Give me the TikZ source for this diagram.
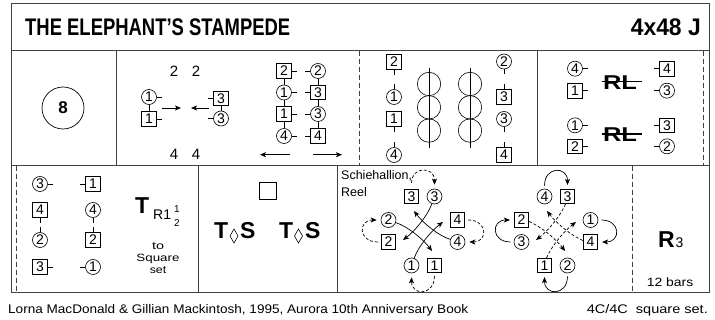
\documentclass[tikz,border=0pt]{standalone}
\usepackage{fontspec}
\usepackage{graphicx}
\setmainfont{Liberation Sans}
\usetikzlibrary{arrows.meta,calc}
\newcommand{\fsz}[1]{\fontsize{#1}{#1}\selectfont}
\newcommand{\wfit}[2]{\resizebox{#1}{\height}{#2}}
\begin{document}
\begin{tikzpicture}[x=1pt,y=-1pt,
  frame/.style={draw=black!75, line width=0.9pt},
  dsep/.style={draw=black!75, line width=0.9pt, dash pattern=on 5pt off 3pt},
  dc/.style={circle, draw, line width=0.6pt, minimum size=15pt, inner sep=0pt, font=\fsz{14}},
  ds/.style={rectangle, draw, line width=0.6pt, minimum size=14.5pt, inner sep=0pt, font=\fsz{14}},
  tk/.style={line width=0.6pt},
  ln/.style={line width=0.6pt},
  arr/.style={line width=0.7pt, -{Stealth[length=6pt,width=5pt,inset=1.5pt]}},
  darr/.style={arr, dash pattern=on 3pt off 2pt},
  txt/.style={inner sep=0pt},
]
\useasboundingbox (0,0) rectangle (715,320);

% ---------- frames ----------
\draw[frame] (11,3) rectangle (709,50.7);
\draw[frame] (11,50.7) rectangle (709,165.7);
\draw[frame] (11,165.7) rectangle (709,292.5);
\draw[frame] (116,50.7) -- (116,165.7);
\draw[dsep] (359,50.7) -- (359,165.7);
\draw[frame] (537,50.7) -- (537,165.7);
\draw[dsep] (703,50.7) -- (703,165.7);
\draw[dsep] (16,165.7) -- (16,292.5);
\draw[frame] (198,165.7) -- (198,292.5);
\draw[frame] (337.5,165.7) -- (337.5,292.5);
\draw[dsep] (632,165.7) -- (632,292.5);

% ---------- title ----------
\node[txt, anchor=west] (title) at (25,27.5) {\wfit{265pt}{\fsz{24}\bfseries THE ELEPHANT'S STAMPEDE}};
\node[txt, anchor=east] (form) at (701,27.5) {\wfit{70pt}{\fsz{24}\bfseries 4x48 J}};

% ---------- cell A ----------
\node[circle, draw, line width=0.7pt, minimum size=42pt, inner sep=0pt, font=\fsz{17}\bfseries] (eight) at (63,108) {8};

% ---------- cell B ----------
\node[txt, font=\fsz{15}] (ta) at (174,71) {2};
\node[txt, font=\fsz{15}] (tb) at (196,71) {2};
\node[txt, font=\fsz{15}] (ba) at (174,154) {4};
\node[txt, font=\fsz{15}] (bb) at (196,154) {4};

\node[dc] (b1c) at (149,97) {1};
\node[ds] (b1s) at (149,119) {1};
\draw[ln] (b1c) -- (b1s);
\draw[tk] (b1c.east) -- ++(5,0);
\draw[tk] (b1s.east) -- ++(5,0);
\node[ds] (b3s) at (221,98.5) {3};
\node[dc] (b3c) at (221,118.5) {3};
\draw[ln] (b3s) -- (b3c);
\draw[tk] (b3s.west) -- ++(-5,0);
\draw[tk] (b3c.west) -- ++(-5,0);
\coordinate (ar1s) at (162,108); \coordinate (ar1e) at (181,108);
\coordinate (ar2s) at (209,108); \coordinate (ar2e) at (191,108);
\draw[arr] (ar1s) -- (ar1e);
\draw[arr] (ar2s) -- (ar2e);

\node[ds] (l1) at (284,71) {2};
\node[dc] (l2) at (284,92.5) {1};
\node[ds] (l3) at (284,114) {1};
\node[dc] (l4) at (284,136) {4};
\draw[ln] (l1) -- (l2); \draw[ln] (l2) -- (l3); \draw[ln] (l3) -- (l4);
\foreach \n in {l1,l2,l3,l4} \draw[tk] (\n.east) -- ++(5,0);
\node[dc] (r1) at (318,71) {2};
\node[ds] (r2) at (318,92.5) {3};
\node[dc] (r3) at (318,114) {3};
\node[ds] (r4) at (318,136) {4};
\draw[ln] (r1) -- (r2); \draw[ln] (r2) -- (r3); \draw[ln] (r3) -- (r4);
\foreach \n in {r1,r2,r3,r4} \draw[tk] (\n.west) -- ++(-5,0);
\coordinate (ar3s) at (290,154.7); \coordinate (ar3e) at (260,154.7);
\coordinate (ar4s) at (313,154.7); \coordinate (ar4e) at (342,154.7);
\draw[arr] (ar3s) -- (ar3e);
\draw[arr] (ar4s) -- (ar4e);

% ---------- cell C ----------
\node[ds] (c1) at (394,62) {2};
\node[dc] (c2) at (394,97) {1};
\node[ds] (c3) at (394,119) {1};
\node[dc] (c4) at (394,155) {4};
\draw[tk] (c1.south) -- ++(0,5);
\draw[tk] (c2.north) -- ++(0,-5);
\draw[tk] (c3.south) -- ++(0,5);
\draw[tk] (c4.north) -- ++(0,-5);
\node[dc] (d1) at (504,61.5) {2};
\node[ds] (d2) at (504,97) {3};
\node[dc] (d3) at (504,119) {3};
\node[ds] (d4) at (504,155) {4};
\draw[tk] (d1.south) -- ++(0,5);
\draw[tk] (d2.north) -- ++(0,-5);
\draw[tk] (d3.south) -- ++(0,5);
\draw[tk] (d4.north) -- ++(0,-5);
\foreach \xx in {429,470} {
  \draw[ln] (\xx,68) -- (\xx,148);
  \foreach \yy in {84,107.3,130.6} \draw[ln] (\xx,\yy) circle[radius=11.7];
}

% ---------- cell D ----------
\node[dc] (e1) at (575,68.7) {4};
\node[ds] (e2) at (575,90.7) {1};
\draw[tk] (e1.east) -- ++(5,0); \draw[tk] (e2.east) -- ++(5,0);
\node[ds] (e3) at (667,68.7) {4};
\node[dc] (e4) at (667,90.7) {3};
\draw[tk] (e3.west) -- ++(-5,0); \draw[tk] (e4.west) -- ++(-5,0);
\node[txt, anchor=base] (rl1) at (620,89.7) {\wfit{34pt}{\fsz{20}\bfseries RL}};
\draw[line width=1.3pt] (602,81.3) -- (642,81.3);
\node[dc] (e5) at (575,125.3) {1};
\node[ds] (e6) at (575,146.3) {2};
\draw[tk] (e5.east) -- ++(5,0); \draw[tk] (e6.east) -- ++(5,0);
\node[ds] (e7) at (667,125.3) {3};
\node[dc] (e8) at (667,146.3) {2};
\draw[tk] (e7.west) -- ++(-5,0); \draw[tk] (e8.west) -- ++(-5,0);
\node[txt, anchor=base] (rl2) at (620,142) {\wfit{34pt}{\fsz{20}\bfseries RL}};
\draw[line width=1.3pt] (602,134) -- (642,134);

% ---------- cell E ----------
\node[dc] (g1) at (40,184) {3};   \draw[tk] (g1.east) -- ++(5,0);
\node[ds] (g2) at (93,184) {1};   \draw[tk] (g2.west) -- ++(-5,0);
\node[ds] (g3) at (40,210) {4};   \draw[tk] (g3.south) -- ++(0,5);
\node[dc] (g4) at (93,210) {4};   \draw[tk] (g4.south) -- ++(0,5);
\node[dc] (g5) at (40,240) {2};   \draw[tk] (g5.north) -- ++(0,-5);
\node[ds] (g6) at (93,240) {2};   \draw[tk] (g6.north) -- ++(0,-5);
\node[ds] (g7) at (40,267) {3};   \draw[tk] (g7.east) -- ++(5,0);
\node[dc] (g8) at (93,267) {1};   \draw[tk] (g8.west) -- ++(-5,0);
\node[txt, anchor=base west] (tT) at (135,213.3) {\fsz{23}\bfseries T};
\node[txt, anchor=base west] (tR) at (153,219.3) {\fsz{14}R1};
\node[txt] (tf1) at (177,208.8) {\fsz{10}1};
\node[txt] (tf2) at (177,223.3) {\fsz{10}2};
\node[txt] (to1) at (158,246) {\wfit{12pt}{\fsz{10.5}to}};
\node[txt] (to2) at (158,258.7) {\wfit{43pt}{\fsz{10.5}Square}};
\node[txt] (to3) at (158,270) {\wfit{16.5pt}{\fsz{10.5}set}};

% ---------- cell F ----------
\node[rectangle, draw, line width=0.6pt, minimum size=16.5pt, inner sep=0pt] (sq) at (268,191) {};
\node[txt, anchor=base west] (ts1) at (214,238.3) {\fsz{23}\bfseries T};
\draw[ln] (234,229) -- (238,236) -- (234,243) -- (230,236) -- cycle;
\node[txt, anchor=base west] (ts2) at (240,238.3) {\fsz{23}\bfseries S};
\node[txt, anchor=base west] (ts3) at (279,238.3) {\fsz{23}\bfseries T};
\draw[ln] (298.5,229) -- (302.5,236) -- (298.5,243) -- (294.5,236) -- cycle;
\node[txt, anchor=base west] (ts4) at (305,238.3) {\fsz{23}\bfseries S};

% ---------- cell G ----------
\node[txt, anchor=west] (sch) at (341,176) {\fsz{12.5}Schiehallion,};
\node[txt, anchor=west] (reel) at (341,192) {\fsz{12.5}Reel};

\begin{scope}[shift={(423,231)}]
\node[ds] (f1s3) at (-11.5,-34.5) {3};
\node[dc] (f1c3) at (11.5,-34.5) {3};
\node[dc] (f1c2) at (-34.5,-11) {2};
\node[ds] (f1s2) at (-34.5,11) {2};
\node[ds] (f1s4) at (34.5,-11) {4};
\node[dc] (f1c4) at (34.5,11) {4};
\node[dc] (f1c1) at (-11.5,34.5) {1};
\node[ds] (f1s1) at (11.5,34.5) {1};
\draw[arr] (f1c3.250) .. controls (5,-16) and (-8,0) .. (-20,9);
\draw[arr] (f1c4.160) .. controls (16,5) and (0,-8) .. (-9,-20);
\draw[arr] (f1c1.70) .. controls (-5,16) and (8,0) .. (20,-9);
\draw[arr] (f1c2.-20) .. controls (-16,-5) and (0,8) .. (9,20);
\draw[darr] ([yshift=6pt]f1s3.north) .. controls (-11.5,-65) and (11.5,-65) .. ([yshift=4pt]f1c3.north);
\draw[darr] ([xshift=3pt]f1s4.east) .. controls (65,-11) and (65,11) .. ([xshift=4pt]f1c4.east);
\draw[darr] ([yshift=-3pt]f1s1.south) .. controls (11.5,65) and (-11.5,65) .. ([yshift=-4pt]f1c1.south);
\draw[darr] ([xshift=-3pt]f1s2.west) .. controls (-65,11) and (-65,-11) .. ([xshift=-4pt]f1c2.west);
\end{scope}

\begin{scope}[shift={(556,231)}]
\node[dc] (f2c4) at (-11.5,-34.5) {4};
\node[ds] (f2s3) at (11.5,-34.5) {3};
\node[ds] (f2s2) at (-34.5,-11) {2};
\node[dc] (f2c3) at (-34.5,11) {3};
\node[dc] (f2c1) at (34.5,-11) {1};
\node[ds] (f2s4) at (34.5,11) {4};
\node[ds] (f2s1) at (-11.5,34.5) {1};
\node[dc] (f2c2) at (11.5,34.5) {2};
\draw[darr] ([xshift=-2pt]f2s3.south) .. controls (5,-16) and (-8,0) .. (-20,9);
\draw[darr] ([yshift=1.5pt]f2s4.west) .. controls (16,5) and (0,-8) .. (-9,-20);
\draw[darr] ([xshift=2pt]f2s1.north) .. controls (-5,16) and (8,0) .. (20,-9);
\draw[darr] ([yshift=-1.5pt]f2s2.east) .. controls (-16,-5) and (0,8) .. (9,20);
\draw[arr] ([yshift=3pt]f2c4.north) .. controls (-11.5,-65) and (11.5,-65) .. ([yshift=4pt]f2s3.north);
\draw[arr] ([xshift=3pt]f2c1.east) .. controls (65,-11) and (65,11) .. ([xshift=4pt]f2s4.east);
\draw[arr] ([yshift=-3pt]f2c2.south) .. controls (11.5,65) and (-11.5,65) .. ([yshift=-4pt]f2s1.south);
\draw[arr] ([xshift=-3pt]f2c3.west) .. controls (-65,11) and (-65,-11) .. ([xshift=-4pt]f2s2.west);
\end{scope}

% ---------- cell H ----------
\node[txt, anchor=base west] (rR) at (658,247.3) {\fsz{23}\bfseries R};
\node[txt, anchor=base west] (r3) at (675.5,247.3) {\fsz{14}3};
\node[txt] (bars) at (670,282) {\wfit{46.5pt}{\fsz{12}12 bars}};

% ---------- footer ----------
\node[txt, anchor=west] (foot1) at (8,310) {\wfit{460pt}{\fsz{12.5}Lorna MacDonald \& Gillian Mackintosh, 1995, Aurora 10th Anniversary Book}};
\node[txt, anchor=east] (foot2) at (708,310) {\wfit{121pt}{\fsz{12.5}4C/4C\ \ square set.}};
\end{tikzpicture}
\end{document}
